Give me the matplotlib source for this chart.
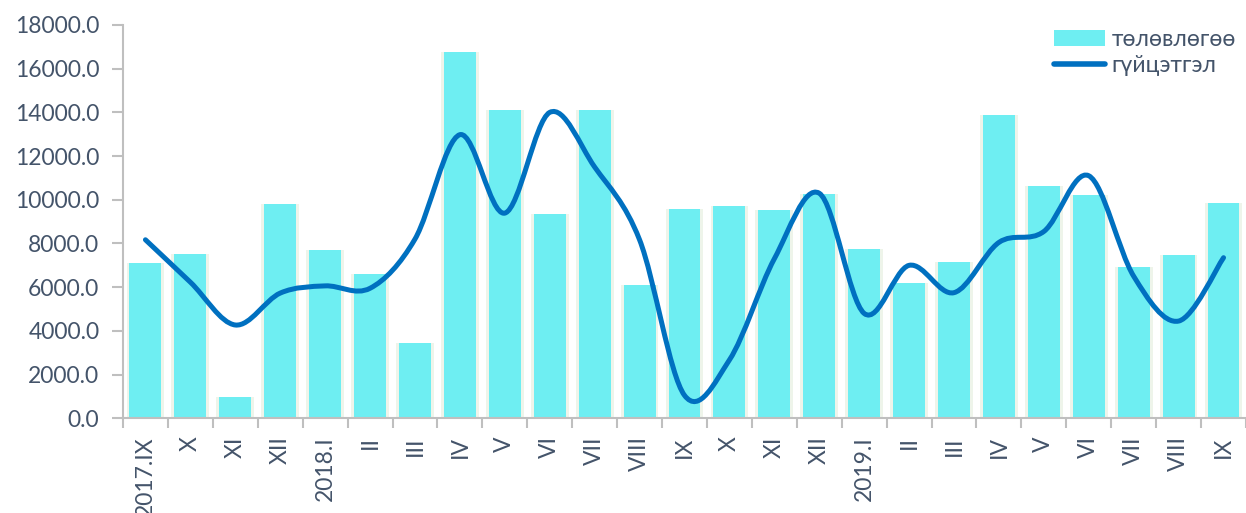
import matplotlib
matplotlib.use("Agg")
import matplotlib.pyplot as plt
from matplotlib.path import Path
from matplotlib.patches import PathPatch, Patch
from matplotlib.lines import Line2D
import numpy as np

categories = ["2017.IX", "X", "XI", "XII", "2018.I", "II", "III", "IV", "V", "VI",
              "VII", "VIII", "IX", "X", "XI", "XII", "2019.I", "II", "III", "IV",
              "V", "VI", "VII", "VIII", "IX"]
plan = [7100, 7530, 990, 9830, 7680, 6610, 3460, 16770, 14120, 9370,
        14090, 6110, 9590, 9710, 9510, 10260, 7740, 6170, 7170, 13890,
        10640, 10240, 6930, 7480, 9860]
actual = [8170, 6230, 4270, 5730, 6060, 5950, 8200, 12980, 9390, 14000,
          11500, 8170, 1050, 2670, 7300, 10300, 4800, 7000, 5750, 8050,
          8550, 11100, 6500, 4450, 7350]
legend_labels = ["төлөвлөгөө", "гүйцэтгэл"]

bar_color = "#6EEEF2"
line_color = "#0070C0"
text_color = "#44546A"
axis_color = "#BFBFBF"

plt.rcParams['font.family'] = ['Lato', 'DejaVu Sans']

fig = plt.figure(figsize=(12.46, 5.13), dpi=100)
ax = fig.add_axes([0.0987, 0.1846, 0.9013, 0.7667])

x = np.arange(len(categories))
ax.bar(x, plan, width=0.84, color="#EEF4EA", zorder=1)
ax.bar(x, plan, width=0.71, color=bar_color, zorder=2)

# smoothed line (Catmull-Rom style bezier, like Excel smoothing)
pts = np.column_stack([x, actual]).astype(float)
verts = [tuple(pts[0])]
codes = [Path.MOVETO]
n = len(pts)
for i in range(n - 1):
    p0 = pts[i - 1] if i > 0 else pts[i]
    p1 = pts[i]
    p2 = pts[i + 1]
    p3 = pts[i + 2] if i + 2 < n else pts[i + 1]
    c1 = p1 + (p2 - p0) / 6.0
    c2 = p2 - (p3 - p1) / 6.0
    verts += [tuple(c1), tuple(c2), tuple(p2)]
    codes += [Path.CURVE4] * 3
path = Path(verts, codes)
ax.add_patch(PathPatch(path, facecolor="none", edgecolor=line_color, lw=3.6,
                       capstyle="round", joinstyle="round", zorder=3))

ax.set_xlim(-0.5, len(categories) - 0.5)
ax.set_ylim(0, 18000)
ax.set_yticks(np.arange(0, 18001, 2000))
ax.set_yticklabels([f"{v:.1f}" for v in np.arange(0, 18001, 2000)])

ax.set_xticks(np.arange(-0.5, len(categories), 1.0))
ax.set_xticklabels([])
ax.set_xticks(x, minor=True)
ax.set_xticklabels(categories, minor=True, rotation=90, va="top", ha="center")
ax.tick_params(axis="x", which="minor", length=0, pad=13, labelsize=16.5, labelcolor=text_color)
ax.tick_params(axis="x", which="major", length=7, width=1.5, color=axis_color)
ax.tick_params(axis="y", length=8, width=1.5, color=axis_color, labelsize=16.5,
               labelcolor=text_color, pad=9)

for s in ["top", "right"]:
    ax.spines[s].set_visible(False)
for s in ["left", "bottom"]:
    ax.spines[s].set_color(axis_color)
    ax.spines[s].set_linewidth(1.5)

handles = [Patch(facecolor=bar_color, edgecolor="none"),
           Line2D([0], [0], color=line_color, lw=4, solid_capstyle="round")]
leg = fig.legend(handles, legend_labels, loc="upper right",
                 bbox_to_anchor=(1236 / 1246, 1 - 29 / 513),
                 frameon=False, fontsize=16.5, handlelength=2.2, handletextpad=0.3,
                 labelspacing=0.2, borderaxespad=0, borderpad=0)
for t in leg.get_texts():
    t.set_color(text_color)

fig.savefig("out.png", dpi=100)
